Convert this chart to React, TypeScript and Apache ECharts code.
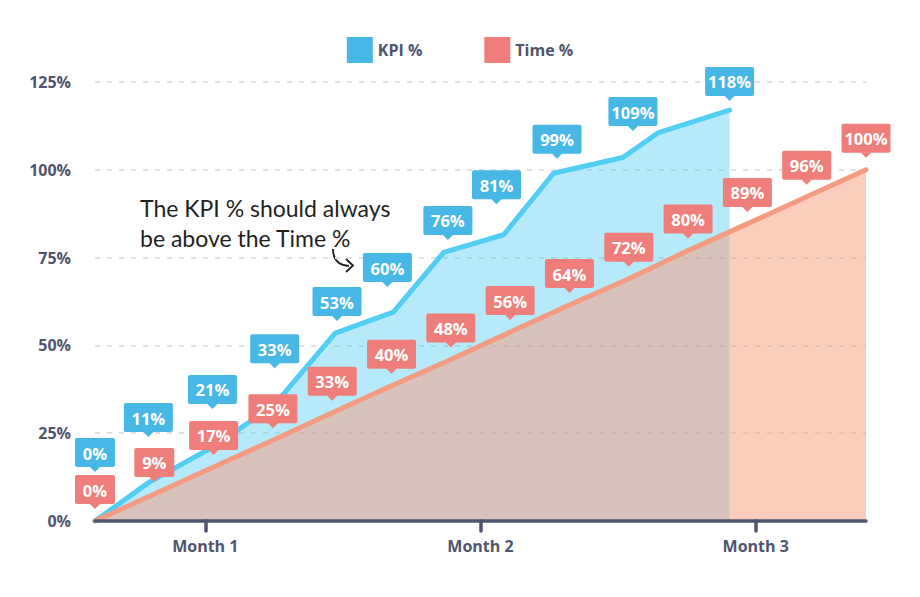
import React, { useEffect, useRef } from "react";
import * as echarts from "echarts";

// x positions are in weeks, y values in percent
const weeks = [0, 1, 2, 3, 4, 5, 6, 7, 8, 9, 10, 11, 12, 13];
const timeValues = [0, 7.7, 15.4, 23, 30.8, 38.5, 46, 53.8, 61.5, 69, 77, 84.6, 92.3, 100];
const timeTags = ["0%", "9%", "17%", "25%", "33%", "40%", "48%", "56%", "64%", "72%", "80%", "89%", "96%", "100%"];

const kpiWeeks = [0, 0.91, 1.98, 3.02, 4.05, 5.03, 5.88, 6.89, 7.73, 8.9, 9.49, 10.7];
const kpiValues = [0, 11, 21, 33, 53.5, 59.5, 76.5, 81.5, 99, 103.5, 110.5, 117];

// where each KPI tag points to
const kpiTagText = ["0%", "11%", "21%", "33%", "53%", "60%", "76%", "81%", "99%", "109%", "118%"];
const kpiTagWeeks = [0, 0.9, 1.98, 3.03, 4.08, 4.93, 5.95, 6.77, 7.79, 9.07, 10.7];
const kpiTagAt = [10.5, 20.5, 28.5, 40.1, 53.5, 63.2, 76.6, 86.8, 99.7, 107.6, 116.2];

const monthTicks = [1.86, 6.5, 11.14];
const monthLabels = ["Month 1", "Month 2", "Month 3"];

const FONT = '"Open Sans", sans-serif';
const KPI_TAG = "#47B8E6";
const TIME_TAG = "#EF7E7A";
const AXIS_TEXT = "#50556E";

const tagRenderer = (texts: string[], color: string) => (params: any, api: any) => {
  const [cx, cy] = api.coord([api.value(0), api.value(1)]);
  const text = texts[params.dataIndex];
  const w = text.length > 2 ? 49 : 40;
  const h = 29;
  const tipY = cy - 12;
  const bottom = tipY - 5;
  return {
    type: "group",
    children: [
      {
        type: "rect",
        shape: { x: cx - w / 2, y: bottom - h, width: w, height: h, r: 2 },
        style: { fill: color },
      },
      {
        type: "polygon",
        shape: { points: [[cx - 5.5, bottom - 0.5], [cx + 5.5, bottom - 0.5], [cx, tipY]] },
        style: { fill: color },
      },
      {
        type: "text",
        style: {
          text,
          x: cx,
          y: bottom - h / 2 + 0.5,
          align: "center",
          verticalAlign: "middle",
          fill: "#ffffff",
          fontSize: 16.5,
          fontWeight: "bold",
          fontFamily: FONT,
        },
      },
    ],
  };
};

const KpiChart: React.FC = () => {
  const chartRef = useRef<HTMLDivElement | null>(null);

  useEffect(() => {
    document.body.style.margin = "0";
    if (!chartRef.current) return;
    const chart = echarts.init(chartRef.current, null, { renderer: "svg" });

    const option = {
      animation: false,
      backgroundColor: "#ffffff",
      legend: {
        top: 32,
        left: "center",
        icon: "rect",
        itemWidth: 26,
        itemHeight: 26,
        itemGap: 62,
        itemStyle: { borderWidth: 0 },
        textStyle: { color: AXIS_TEXT, fontSize: 16, fontWeight: "bold", fontFamily: FONT },
        data: [
          { name: "KPI %", itemStyle: { color: KPI_TAG } },
          { name: "Time %", itemStyle: { color: TIME_TAG } },
        ],
      },
      grid: { left: 95, right: 54, top: 82, bottom: 76, outerBoundsMode: "none" },
      xAxis: {
        type: "value",
        min: 0,
        max: 13,
        z: 3,
        axisLine: { lineStyle: { color: "#51546D", width: 3.5, cap: "round" } },
        axisTick: {
          customValues: monthTicks,
          length: 10,
          lineStyle: { color: "#51546D", width: 3.5, cap: "round" },
        },
        axisLabel: {
          customValues: monthTicks,
          margin: 17,
          color: AXIS_TEXT,
          fontSize: 16,
          fontWeight: "bold",
          fontFamily: FONT,
          formatter: (v: number) => {
            let best = 0;
            monthTicks.forEach((t, i) => {
              if (Math.abs(t - v) < Math.abs(monthTicks[best] - v)) best = i;
            });
            return monthLabels[best];
          },
        },
        splitLine: { show: false },
      },
      yAxis: {
        type: "value",
        min: 0,
        max: 125,
        interval: 25,
        axisLine: { show: false },
        axisTick: { show: false },
        axisLabel: {
          formatter: "{value}%",
          margin: 24,
          color: AXIS_TEXT,
          fontSize: 16,
          fontWeight: "bold",
          fontFamily: FONT,
        },
        splitLine: { lineStyle: { color: "#e0e0e0", width: 2, type: [5, 7] } },
      },
      series: [
        {
          name: "KPI %",
          type: "line",
          data: kpiWeeks.map((w, i) => [w, kpiValues[i]]),
          showSymbol: false,
          lineStyle: { color: "#52CDF3", width: 5, cap: "round", join: "round" },
          itemStyle: { color: KPI_TAG },
          areaStyle: { color: "rgba(80,205,242,0.42)", opacity: 1 },
          z: 2,
        },
        {
          name: "Time %",
          type: "line",
          data: weeks.map((w, i) => [w, timeValues[i]]),
          showSymbol: false,
          lineStyle: { color: "#F49B82", width: 5, cap: "round", join: "round" },
          itemStyle: { color: TIME_TAG },
          areaStyle: { color: "rgba(247,156,124,0.5)", opacity: 1 },
          z: 2,
        },
        {
          type: "custom",
          data: weeks.map((w, i) => [w, timeValues[i]]),
          renderItem: tagRenderer(timeTags, TIME_TAG),
          clip: false,
          z: 5,
          silent: true,
        },
        {
          type: "custom",
          data: kpiTagWeeks.map((w, i) => [w, kpiTagAt[i]]),
          renderItem: tagRenderer(kpiTagText, KPI_TAG),
          clip: false,
          z: 5,
          silent: true,
        },
      ],
      graphic: [
        {
          type: "text",
          left: 140,
          top: 193,
          style: {
            text: "The KPI % should always\nbe above the Time %",
            fill: "#1f1f1f",
            fontSize: 23,
            lineHeight: 30,
            fontFamily: '"Comic Sans MS", Lato, sans-serif',
          },
        },
        {
          type: "bezierCurve",
          shape: { x1: 333, y1: 249, x2: 349, y2: 266, cpx1: 333, cpy1: 265 },
          style: { stroke: "#1f1f1f", lineWidth: 1.8, fill: "none" },
        },
        {
          type: "polyline",
          shape: { points: [[346, 259], [353, 265.5], [346, 272]] },
          style: { stroke: "#1f1f1f", lineWidth: 1.8, fill: "none" },
        },
      ],
    };

    chart.setOption(option);
    return () => {
      chart.dispose();
    };
  }, []);

  return <div ref={chartRef} style={{ width: "920px", height: "597px" }} />;
};

export default function App() {
  return <KpiChart />;
}
